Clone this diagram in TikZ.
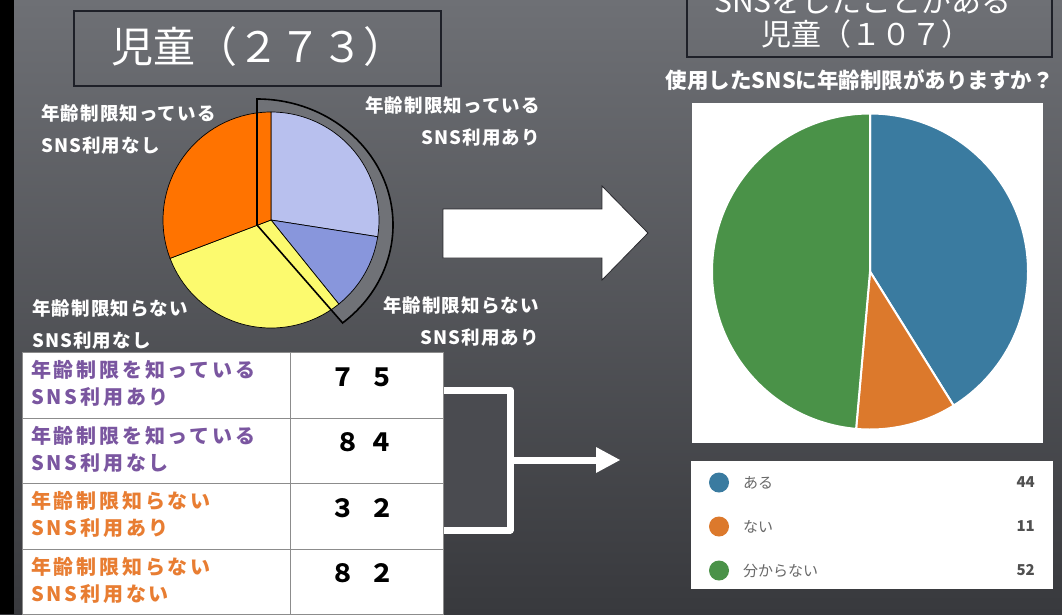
\documentclass[tikz,border=0pt]{standalone}
\usepackage{fontspec}
\setmainfont{Noto Sans CJK JP}
\newfontfamily\jpspaced{Noto Sans CJK JP}[LetterSpace=14]
\newfontfamily\jplabel{Noto Sans CJK JP}[LetterSpace=6]
\newcommand{\fsz}[2]{\fontsize{#1}{#2}\selectfont}
\definecolor{bgtop}{RGB}{110,112,117}
\definecolor{bgbot}{RGB}{56,57,61}
\definecolor{wedgegray}{RGB}{112,114,119}
\definecolor{lblue}{RGB}{184,192,238}
\definecolor{mblue}{RGB}{136,150,220}
\definecolor{pyellow}{RGB}{252,250,110}
\definecolor{porange}{RGB}{255,115,0}
\definecolor{rblue}{RGB}{58,123,160}
\definecolor{rorange}{RGB}{220,121,44}
\definecolor{rgreen}{RGB}{74,146,72}
\definecolor{tpurple}{RGB}{122,86,160}
\definecolor{torange}{RGB}{232,125,50}
\definecolor{leggray}{RGB}{105,105,105}
\definecolor{legnum}{RGB}{80,80,80}
\definecolor{bracketin}{RGB}{74,75,80}
\begin{document}
\begin{tikzpicture}[x=1pt,y=1pt,
  titlebox/.style={draw={rgb,255:red,30;green,32;blue,40}, line width=1.2pt},
  wlabel/.style={inner sep=0pt, text=white, font=\jplabel\bfseries\fsz{18.5}{32}},
  cell/.style={draw={rgb,255:red,140;green,140;blue,140}, fill=white, line width=0.8pt, inner sep=0pt, anchor=north west, minimum height=65.5pt},
  celltxt/.style={inner sep=0pt, anchor=west, align=left, font=\jpspaced\bfseries\fsz{20}{27}},
  numtxt/.style={inner sep=0pt, font=\bfseries\fsz{25}{28}, text=black},
  slice/.style={draw=black, line width=0.7pt},
  rslice/.style={draw=white, line width=2pt},
  legtxt/.style={inner sep=0pt, text=leggray, font=\fsz{15}{18}},
  legnumtxt/.style={inner sep=0pt, text=legnum, anchor=east, font=\bfseries\fsz{15}{18}},
  bracket/.style={draw=white, line width=7pt}
]
\useasboundingbox (0,0) rectangle (1062,-614);
\clip (0,0) rectangle (1062,-614);
\shade[top color=bgtop, bottom color=bgbot] (0,0) rectangle (1062,-614);
\fill[black] (0,0) rectangle (14,-614);

% ---------- left title ----------
\draw[titlebox] (74,-11) rectangle (441,-86);
\node[inner sep=0pt, anchor=west, text=white, font=\fsz{42}{48}] (t1) at (111,-47) {児童（２７３）};

% ---------- left pie ----------
\coordinate (P) at (271,-220);
\coordinate (W) at (257,-225);
\fill[wedgegray] (W) -- ++(0,126) arc[start angle=90, end angle=-51, x radius=136, y radius=126] -- cycle;
\filldraw[slice, fill=lblue] (P) -- ++(90:108) arc[start angle=90, end angle=-8.9, radius=108] -- cycle;
\filldraw[slice, fill=mblue] (P) -- ++(-8.9:108) arc[start angle=-8.9, end angle=-51.1, radius=108] -- cycle;
\filldraw[slice, fill=pyellow] (P) -- ++(-51.1:108) arc[start angle=-51.1, end angle=-159.2, radius=108] -- cycle;
\filldraw[slice, fill=porange] (P) -- ++(-159.2:108) arc[start angle=-159.2, end angle=-270, radius=108] -- cycle;
\draw[black, line width=1.6pt] (W) -- ++(0,126) arc[start angle=90, end angle=-51, x radius=136, y radius=126] -- cycle;

% pie labels
\node[wlabel, anchor=west, align=left] (la) at (41,-129) {年齢制限知っている\\SNS利用なし};
\node[wlabel, anchor=east, align=right] (lb) at (540,-121) {年齢制限知っている\\SNS利用あり};
\node[wlabel, anchor=east, align=right] (lc) at (539,-321) {年齢制限知らない\\SNS利用あり};
\node[wlabel, anchor=west, align=left] (ld) at (32,-324) {年齢制限知らない\\SNS利用なし};

% ---------- big arrow ----------
\filldraw[fill=white, draw={rgb,255:red,40;green,40;blue,45}, line width=0.8pt]
  (443,-209) -- (602,-209) -- (602,-186) -- (648,-233) -- (602,-280) -- (602,-258) -- (443,-258) -- cycle;

% ---------- bracket ----------
\fill[bracketin] (443,-393) rectangle (507,-527);
\coordinate (b1) at (443,-390);
\coordinate (b2) at (443,-530);
\coordinate (bm) at (510,-460);
\coordinate (be) at (598,-460);
\draw[bracket, line join=round] (b1) -- (510,-390) -- (510,-530) -- (b2);
\draw[bracket] (bm) -- (be);
\fill[white] (596,-447) -- (620,-460) -- (596,-473) -- cycle;

% ---------- table ----------
\node[cell, minimum width=268pt] (r1a) at (22,-352) {};
\node[cell, minimum width=153pt] (r1b) at (290,-352) {};
\node[cell, minimum width=268pt] (r2a) at (22,-417.5) {};
\node[cell, minimum width=153pt] (r2b) at (290,-417.5) {};
\node[cell, minimum width=268pt] (r3a) at (22,-483) {};
\node[cell, minimum width=153pt] (r3b) at (290,-483) {};
\node[cell, minimum width=268pt] (r4a) at (22,-548.5) {};
\node[cell, minimum width=153pt] (r4b) at (290,-548.5) {};

\node[celltxt, text=tpurple] (x1) at (31,-383.5) {年齢制限を知っている\\SNS利用あり};
\node[celltxt, text=tpurple] (x2) at (31,-449) {年齢制限を知っている\\SNS利用なし};
\node[celltxt, text=torange] (x3) at (31,-514.5) {年齢制限知らない\\SNS利用あり};
\node[celltxt, text=torange] (x4) at (31,-580) {年齢制限知らない\\SNS利用ない};

\node[numtxt] (n1) at (362,-377) {７\hspace{14pt}５};
\node[numtxt] (n2) at (364,-442.5) {８\hspace{8pt}４};
\node[numtxt] (n3) at (362,-508) {３\hspace{14pt}２};
\node[numtxt] (n4) at (362,-573.5) {８\hspace{14pt}２};

% ---------- right title ----------
\draw[titlebox] (687,8) rectangle (1052,-57);
\node[inner sep=0pt, text=white, font=\fsz{30}{34}] (t2a) at (863,-1) {SNSをしたことがある};
\node[inner sep=0pt, anchor=west, text=white, font=\fsz{30}{34}] (t2b) at (761,-34) {児童（１０７）};
\node[inner sep=0pt, anchor=east, text=white, font=\bfseries\fsz{21.5}{26}] (q) at (1054,-80) {使用したSNSに年齢制限がありますか？};

% ---------- right pie ----------
\fill[white] (692,-103) rectangle (1043,-443);
\coordinate (Q) at (870,-271.5);
\filldraw[rslice, fill=rblue] (Q) -- ++(90:158) arc[start angle=90, end angle=-58.04, radius=158] -- cycle;
\filldraw[rslice, fill=rorange] (Q) -- ++(-58.04:158) arc[start angle=-58.04, end angle=-95.05, radius=158] -- cycle;
\filldraw[rslice, fill=rgreen] (Q) -- ++(-95.05:158) arc[start angle=-95.05, end angle=-270, radius=158] -- cycle;

% ---------- legend ----------
\fill[white] (691,-461) rectangle (1053,-589);
\fill[rblue] (719,-482.5) circle (10);
\fill[rorange] (719,-526.5) circle (10);
\fill[rgreen] (719,-570.5) circle (10);
\node[legtxt, anchor=west] (g1) at (743,-482.5) {ある};
\node[legtxt, anchor=west] (g2) at (743,-526.5) {ない};
\node[legtxt, anchor=west] (g3) at (743,-570.5) {分からない};
\node[legnumtxt] (v1) at (1035,-482.5) {44};
\node[legnumtxt] (v2) at (1035,-526.5) {11};
\node[legnumtxt] (v3) at (1035,-570.5) {52};
\end{tikzpicture}
\end{document}
